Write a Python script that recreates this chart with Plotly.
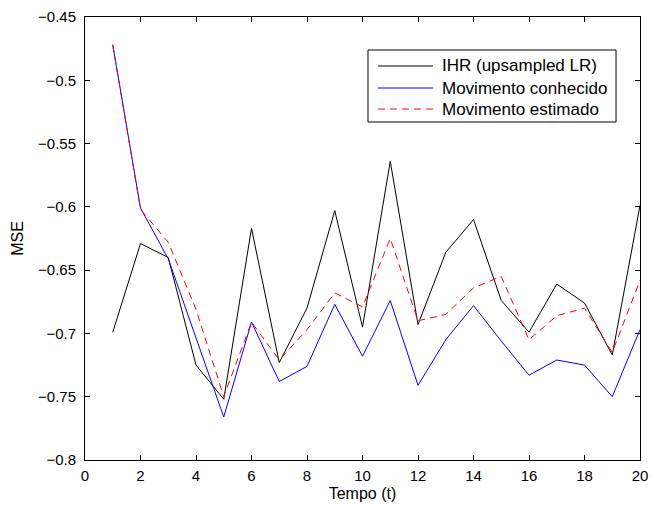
import plotly.graph_objects as go

t = list(range(1, 21))
ihr = [-0.699, -0.629, -0.640, -0.725, -0.752, -0.617, -0.723, -0.680, -0.603, -0.695,
       -0.564, -0.693, -0.636, -0.610, -0.674, -0.699, -0.661, -0.676, -0.717, -0.599]
conhecido = [-0.472, -0.601, -0.641, -0.703, -0.766, -0.691, -0.738, -0.726, -0.677, -0.718,
             -0.674, -0.741, -0.705, -0.678, -0.706, -0.733, -0.721, -0.725, -0.750, -0.697]
estimado = [-0.472, -0.602, -0.628, -0.681, -0.750, -0.691, -0.721, -0.697, -0.668, -0.679,
            -0.625, -0.690, -0.685, -0.664, -0.655, -0.705, -0.686, -0.680, -0.715, -0.658]
names = ["IHR (upsampled LR)", "Movimento conhecido", "Movimento estimado"]
colors = ["black", "blue", "red"]
dashes = ["solid", "solid", "7px,5px"]
xticks = list(range(0, 21, 2))
yticks = [-0.8, -0.75, -0.7, -0.65, -0.6, -0.55, -0.5, -0.45]
yticktext = ["\u22120.8", "\u22120.75", "\u22120.7", "\u22120.65", "\u22120.6",
             "\u22120.55", "\u22120.5", "\u22120.45"]

fig = go.Figure()
for name, ys, c, d in zip(names, [ihr, conhecido, estimado], colors, dashes):
    fig.add_trace(go.Scatter(x=t, y=ys, mode="lines", name=name,
                             line=dict(color=c, width=1, dash=d)))

font = "Liberation Sans, Arial, Helvetica, sans-serif"
axis_common = dict(showline=True, linecolor="black", linewidth=1, mirror="ticks",
                   ticks="inside", ticklen=5, tickcolor="black", showgrid=False,
                   zeroline=False, automargin=False,
                   tickfont=dict(family=font, size=15, color="black"))

# manual legend (paper coordinates)
box = dict(x0=0.5099, x1=0.9568, y0=0.763, y1=0.9255)
row_y = [0.8894, 0.8397, 0.7923]
shapes = [dict(type="rect", xref="paper", yref="paper", line=dict(color="black", width=1),
               fillcolor="white", layer="above", **box)]
annotations = []
for name, c, d, yy in zip(names, colors, dashes, row_y):
    shapes.append(dict(type="line", xref="paper", yref="paper", x0=0.5279, x1=0.627,
                       y0=yy, y1=yy, line=dict(color=c, width=1, dash=d), layer="above"))
    annotations.append(dict(text=name, xref="paper", yref="paper", x=0.6396, y=yy,
                            xanchor="left", yanchor="middle", showarrow=False,
                            font=dict(family=font, size=17, color="black")))

fig.update_layout(
    width=652, height=505,
    margin=dict(l=85, r=12, t=17, b=45),
    paper_bgcolor="white", plot_bgcolor="white",
    font=dict(family=font, size=16, color="black"),
    xaxis=dict(range=[0, 20], tickvals=xticks, ticktext=[str(v) for v in xticks],
               title=dict(text="Tempo (t)", font=dict(family=font, size=16), standoff=4),
               ticklabelstandoff=2, **axis_common),
    yaxis=dict(range=[-0.8, -0.45], tickvals=yticks, ticktext=yticktext,
               title=dict(text="MSE", font=dict(family=font, size=16), standoff=10),
               ticklabelstandoff=5, **axis_common),
    shapes=shapes,
    annotations=annotations,
    showlegend=False,
)
fig.write_html("out.html", config={"displayModeBar": False},
               post_script="document.body.style.margin='0';")
